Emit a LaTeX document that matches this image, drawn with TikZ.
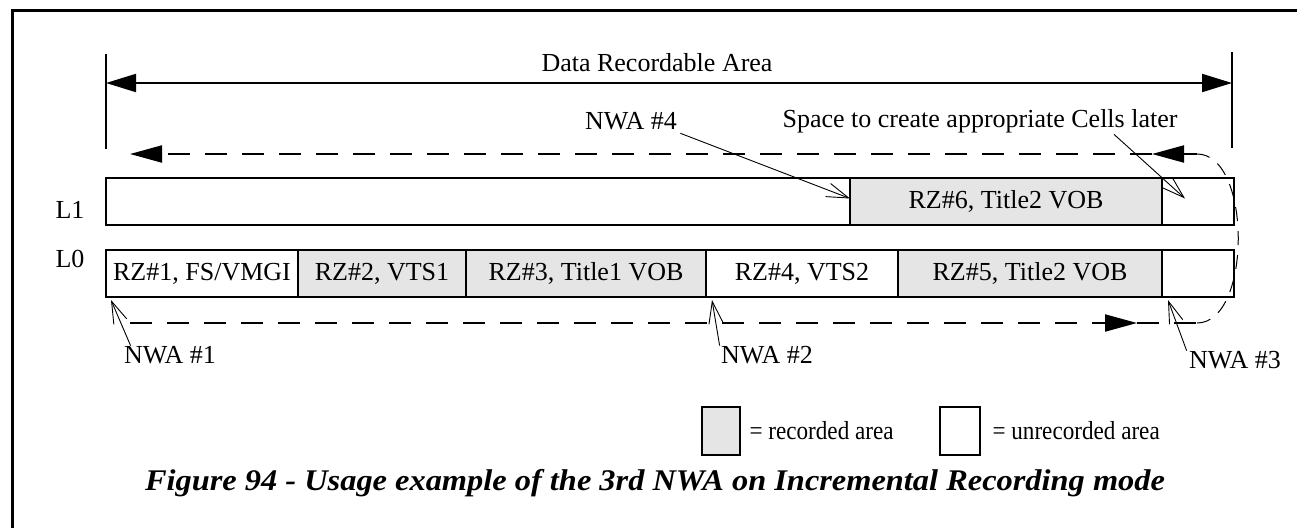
\documentclass[tikz,border=0pt]{standalone}
\usepackage{fontspec}
\usepackage{graphicx}
\setmainfont{Liberation Serif}
\usetikzlibrary{arrows.meta,positioning,calc}

\definecolor{recgray}{gray}{0.9}
\tikzset{
  cell/.style={draw, line width=2.4pt, minimum height=47pt, inner sep=0pt, outer sep=0pt, anchor=north west},
  rec/.style={cell, fill=recgray},
  dimarrow/.style={line width=2pt, {Triangle[length=30pt,width=18pt]}-{Triangle[length=30pt,width=18pt]}},
  trackline/.style={line width=2pt, dash pattern=on 22pt off 15pt},
  trackhead/.style={-{Triangle[length=32pt,width=17pt]}},
  pointer/.style={line width=0.9pt, -{Straight Barb[length=22pt,width=14pt]}}
}
\newcommand{\keytext}[1]{\scalebox{0.89}[1]{#1}}

\begin{document}
\begin{tikzpicture}[x=1pt,y=-1pt,font=\fontsize{26}{31}\selectfont]
\useasboundingbox (0,0) rectangle (1297,528);
\draw[line width=3pt] (12,528) -- (12,10) -- (1297,10);

% dimension of the data recordable area
\coordinate (dl) at (106,83);
\coordinate (dr) at (1232,83);
\draw[line width=2pt] (106,54) -- (106,149);
\draw[line width=2pt] (1232,52) -- (1232,148);
\draw[dimarrow] (dl) -- (dr);
\node (dra) at (657,63) {Data Recordable Area};

% layers
\node (l1) at (70,210) {L1};
\node (l0) at (70,259) {L0};

\node[cell, minimum width=744pt] (free1) at (106,178) {};
\node[rec, minimum width=312pt, right=0pt of free1] (rz6) {RZ\#6, Title2 VOB};
\node[cell, minimum width=72pt, right=0pt of rz6] (e1) {};

\node[cell, minimum width=192pt] (rz1) at (106,250) {RZ\#1, FS/VMGI};
\node[rec, minimum width=168pt, right=0pt of rz1] (rz2) {RZ\#2, VTS1};
\node[rec, minimum width=240pt, right=0pt of rz2] (rz3) {RZ\#3, Title1 VOB};
\node[cell, minimum width=192pt, right=0pt of rz3] (rz4) {RZ\#4, VTS2};
\node[rec, minimum width=264pt, right=0pt of rz4] (rz5) {RZ\#5, Title2 VOB};
\node[cell, minimum width=72pt, right=0pt of rz5] (e0) {};

% recording direction
\coordinate (bleft) at (130,323);
\coordinate (bmid) at (1137,323);
\coordinate (bright) at (1197,323);
\coordinate (ttop) at (1197,154);
\coordinate (tmid) at (1152,154);
\coordinate (tleft) at (130,154);
\draw[trackline, trackhead] (bleft) -- (bmid);
\draw[trackline] (bmid) -- (bright);
\draw[line width=1pt, dash pattern=on 14pt off 10pt] (bright) .. controls (1252,323) and (1252,154) .. (ttop);
\draw[trackline, trackhead] (ttop) -- (tmid);
\draw[trackline, trackhead] (tmid) -- (tleft);

% next writable addresses
\node (nwa4) at (631,121) {NWA \#4};
\node (space) at (980,121) {Space to create appropriate Cells later};
\node (nwa1) at (170,355) {NWA \#1};
\node (nwa2) at (767,355) {NWA \#2};
\node (nwa3) at (1235,360) {NWA \#3};
\draw[pointer] (nwa4.south east) -- ($(rz6.west)+(0,-3)$);
\draw[pointer] ($(space.south east)+(-67,-2)$) -- ($(e1.center)+(-13,-3)$);
\draw[pointer] ($(nwa1.north west)+(10,3)$) -- ($(rz1.south west)+(5,3)$);
\draw[pointer] ($(nwa2.north west)+(2,3)$) -- ($(rz4.south west)+(6,3)$);
\draw[pointer] ($(nwa3.north west)+(1,3)$) -- ($(e0.south west)+(6,3)$);

% legend
\node[rec, minimum width=38pt, minimum height=48pt] (keyrec) at (702,407) {};
\node[right=6pt of keyrec] (keyrectxt) {\keytext{= recorded area}};
\node[cell, minimum width=40pt, minimum height=48pt] (keyfree) at (940,407) {};
\node[right=9pt of keyfree] (keyfreetxt) {\keytext{= unrecorded area}};

\node (caption) at (655,483) {\scalebox{1.08}[1]{\fontsize{30}{36}\selectfont\bfseries\itshape Figure 94 - Usage example of the 3rd NWA on Incremental Recording mode}};
\end{tikzpicture}
\end{document}
